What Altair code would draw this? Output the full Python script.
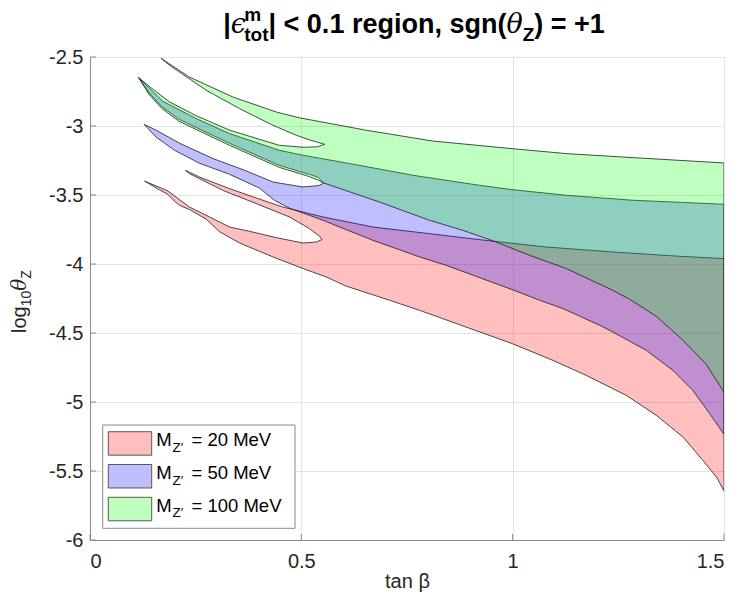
import altair as alt
import pandas as pd

# ---------------- data ----------------
# Each region: lower boundary (lower-prong tip -> right edge),
# upper boundary (right edge -> upper-prong tip),
# notch upper edge (upper-prong tip -> notch tip),
# notch lower edge (notch tip -> lower-prong tip)

m20_lower = [(0.129, -3.399), (0.160, -3.455), (0.184, -3.495), (0.200, -3.545), (0.212, -3.575),
             (0.235, -3.605), (0.275, -3.675), (0.306, -3.765), (0.354, -3.848), (0.433, -3.949),
             (0.504, -4.033), (0.559, -4.094), (0.606, -4.160), (0.709, -4.263), (0.780, -4.336),
             (0.999, -4.577), (1.095, -4.698), (1.174, -4.807), (1.269, -4.952), (1.340, -5.097),
             (1.403, -5.254), (1.450, -5.423), (1.482, -5.543), (1.500, -5.645)]
m20_upper = [(1.500, -3.961), (1.395, -3.944), (1.237, -3.913), (1.080, -3.877), (0.957, -3.836),
             (0.882, -3.809), (0.803, -3.780), (0.669, -3.732), (0.590, -3.683), (0.551, -3.659),
             (0.456, -3.587), (0.409, -3.538), (0.330, -3.454), (0.259, -3.370), (0.226, -3.321)]
m20_notch_up = [(0.226, -3.321), (0.235, -3.345), (0.314, -3.466), (0.393, -3.562), (0.472, -3.659),
                (0.519, -3.743), (0.543, -3.799), (0.549, -3.823)]
m20_notch_lo = [(0.549, -3.823), (0.535, -3.841), (0.504, -3.848), (0.441, -3.809), (0.377, -3.763),
                (0.330, -3.732), (0.283, -3.659), (0.235, -3.587), (0.184, -3.470), (0.129, -3.399)]

m50_lower = [(0.128, -2.988), (0.157, -3.082), (0.200, -3.176), (0.259, -3.270), (0.330, -3.350),
             (0.401, -3.450), (0.437, -3.540), (0.472, -3.595), (0.551, -3.683), (0.669, -3.828),
             (0.780, -3.949), (0.843, -4.010), (0.999, -4.186), (1.064, -4.263), (1.119, -4.323),
             (1.206, -4.444), (1.237, -4.493), (1.316, -4.625), (1.379, -4.770), (1.426, -4.915),
             (1.466, -5.084), (1.500, -5.234)]
m50_upper = [(1.500, -3.567), (1.284, -3.538), (1.127, -3.502), (0.998, -3.461), (0.922, -3.430),
             (0.764, -3.357), (0.614, -3.272), (0.504, -3.212), (0.448, -3.176), (0.330, -3.055),
             (0.251, -2.946), (0.172, -2.820), (0.115, -2.649)]
m50_notch_up = [(0.115, -2.649), (0.140, -2.760), (0.170, -2.860), (0.210, -2.950), (0.251, -3.010),
                (0.330, -3.125), (0.448, -3.285), (0.496, -3.330), (0.519, -3.350), (0.540, -3.372),
                (0.553, -3.415)]
m50_notch_lo = [(0.553, -3.415), (0.540, -3.432), (0.504, -3.442), (0.433, -3.406), (0.366, -3.321),
                (0.291, -3.236), (0.212, -3.125), (0.157, -3.031), (0.128, -2.988)]

m100_lower = [(0.115, -2.649), (0.140, -2.772), (0.170, -2.873), (0.210, -2.965), (0.251, -3.025),
              (0.330, -3.140), (0.448, -3.300), (0.496, -3.345), (0.519, -3.367), (0.540, -3.392),
              (0.553, -3.413), (0.614, -3.477), (0.685, -3.551), (0.803, -3.683), (0.882, -3.756),
              (0.957, -3.836), (1.040, -3.937), (1.127, -4.033), (1.237, -4.191), (1.277, -4.256),
              (1.340, -4.379), (1.403, -4.553), (1.458, -4.727), (1.500, -4.928)]
m100_upper = [(1.500, -3.268), (1.284, -3.229), (1.127, -3.200), (0.998, -3.164), (0.811, -3.109),
              (0.654, -3.031), (0.496, -2.941), (0.441, -2.899), (0.338, -2.790), (0.235, -2.645),
              (0.168, -2.509)]
m100_notch_up = [(0.168, -2.509), (0.188, -2.560), (0.275, -2.741), (0.354, -2.874), (0.433, -2.995),
                 (0.488, -3.067), (0.519, -3.100), (0.543, -3.122), (0.555, -3.133)]
m100_notch_lo = [(0.555, -3.133), (0.538, -3.151), (0.504, -3.154), (0.448, -3.140), (0.409, -3.104),
                 (0.330, -3.030), (0.251, -2.925), (0.188, -2.825), (0.146, -2.727), (0.115, -2.649)]

masses = ["20", "50", "100"]
fill_colors = ["#ff0000", "#0000ff", "#00ff00"]
x_ticks = [0, 0.5, 1, 1.5]
y_ticks = [-6, -5.5, -5, -4.5, -4, -3.5, -3, -2.5]

# ---------------- build table ----------------
regions = {
    "20": (m20_lower, m20_upper, m20_notch_up, m20_notch_lo),
    "50": (m50_lower, m50_upper, m50_notch_up, m50_notch_lo),
    "100": (m100_lower, m100_upper, m100_notch_up, m100_notch_lo),
}
rows = []
for m, (lo, up, nu, nl) in regions.items():
    pts = lo + up + nu[1:] + nl[1:]
    for i, (x, y) in enumerate(pts):
        rows.append({"mass": m, "i": i, "x": x, "y": y})
df = pd.DataFrame(rows)

W, H = 634, 483
FONT = "Liberation Sans"
GREEK = "DejaVu Serif"

X = alt.X("x:Q", scale=alt.Scale(domain=[0, 1.5], nice=False, zero=False),
          axis=alt.Axis(values=x_ticks, title="tan β", labelExpr="datum.value + ''"))
Y = alt.Y("y:Q", scale=alt.Scale(domain=[-6, -2.5], nice=False, zero=False),
          axis=alt.Axis(values=y_ticks, title=None, labelExpr="datum.value + ''"))

base = alt.Chart(df).encode(x=X, y=Y, order=alt.Order("i:Q"))
layers = []
for m, c in zip(masses, fill_colors):
    layers.append(
        base.transform_filter(alt.datum.mass == m).mark_line(
            fill=c, fillOpacity=0.25, stroke="#1e1e1e", strokeWidth=0.8, clip=True
        )
    )

# inward tick marks (MATLAB style)
xt = alt.Chart(pd.DataFrame({"x": x_ticks})).mark_rule(color="#8a8a8a", strokeWidth=1).encode(
    x=X, y=alt.value(H), y2=alt.value(H - 6))
yt = alt.Chart(pd.DataFrame({"y": y_ticks})).mark_rule(color="#8a8a8a", strokeWidth=1).encode(
    y=Y, x=alt.value(0), x2=alt.value(6))
layers += [xt, yt]

one = pd.DataFrame({"a": [0]})


def txt(s, x, y, size, font=FONT, weight="normal", style="normal", angle=0, color="#000000", align="left"):
    return alt.Chart(one).mark_text(
        text=s, font=font, fontSize=size, fontWeight=weight, fontStyle=style,
        align=align, baseline="alphabetic", angle=angle, color=color
    ).encode(x=alt.value(x), y=alt.value(y))


# ---------------- title (pieces with super/subscripts) ----------------
AB = {' ': .278, '|': .280, '<': .584, '0': .556, '1': .556, '.': .278, ',': .278, 'r': .389,
      'e': .556, 'g': .611, 'i': .278, 'o': .611, 'n': .611, 's': .556, '(': .333, ')': .333,
      '=': .584, '+': .584, 't': .333, 'm': .889, 'Z': .611}


def wb(s, size):
    return sum(AB.get(ch, .6) for ch in s) * size


F, S = 27, 19
B = -24
parts = []
cx = 0.0
parts.append(("|", cx, B, F, FONT, "bold", "normal")); cx += wb("|", F)
parts.append(("ϵ", cx, B, F, GREEK, "normal", "italic")); cx += 0.5 * F
parts.append(("m", cx, B - 0.45 * F, S, FONT, "bold", "normal"))
parts.append(("tot", cx, B + 0.3 * F, S, FONT, "bold", "normal")); cx += wb("tot", S)
s1 = "| < 0.1 region, sgn("
parts.append((s1, cx, B, F, FONT, "bold", "normal")); cx += wb(s1, F)
parts.append(("θ", cx, B, F, GREEK, "normal", "italic")); cx += 0.6 * F
parts.append(("Z", cx, B + 0.3 * F, S, FONT, "bold", "normal")); cx += wb("Z", S)
s2 = ") = +1"
parts.append((s2, cx, B, F, FONT, "bold", "normal")); cx += wb(s2, F)
x0 = 324 - cx / 2
for s, px, py, sz, fnt, wt, st in parts:
    layers.append(txt(s, x0 + px, py, sz, font=fnt, weight=wt, style=st))

# ---------------- y-axis title (rotated pieces) ----------------
ybase = -64
yy = 276
layers.append(txt("log", ybase, yy, 20, angle=270, color="#262626")); yy -= 26.7
layers.append(txt("10", ybase + 4.5, yy, 14, angle=270, color="#262626")); yy -= 15.6
layers.append(txt("θ", ybase, yy, 20, font=GREEK, style="italic", angle=270, color="#262626")); yy -= 12
layers.append(txt("Z", ybase + 4.5, yy, 14, angle=270, color="#262626"))

# ---------------- legend ----------------
leg_box = alt.Chart(one).mark_rect(fill="white", stroke="#8a8a8a", strokeWidth=1).encode(
    x=alt.value(12.7), x2=alt.value(205), y=alt.value(368), y2=alt.value(471.3))
layers.append(leg_box)
for k, (m, c) in enumerate(zip(masses, fill_colors)):
    top = 374.7 + 32.8 * k
    layers.append(alt.Chart(one).mark_rect(fill=c, fillOpacity=0.25, stroke="#333333", strokeWidth=0.8).encode(
        x=alt.value(18.3), x2=alt.value(61.7), y=alt.value(top), y2=alt.value(top + 23.5)))
    bl = top + 14.5
    layers.append(txt("M", 66.3, bl, 18.5, color="#000000"))
    layers.append(txt("Z′", 82.6, bl + 5.5, 13.5, color="#000000"))
    layers.append(txt("= " + m + " MeV", 101.5, bl, 18.5, color="#000000"))

chart = alt.layer(*layers).properties(
    width=W, height=H, autosize="none",
    padding={"left": 82, "top": 49, "right": 9, "bottom": 56},
).configure_view(stroke=None).configure_axis(
    grid=True, gridColor="#e3e3e3", gridWidth=1,
    domainColor="#8a8a8a", domainWidth=1,
    ticks=False, tickSize=0,
    labelFont=FONT, labelFontSize=20, labelColor="#262626",
    titleFont=FONT, titleFontSize=20, titleColor="#262626", titleFontWeight="normal",
).configure_axisX(labelPadding=11, titlePadding=0).configure_axisY(labelPadding=7)

chart.save("out.html", embed_options={"renderer": "svg", "actions": False})
